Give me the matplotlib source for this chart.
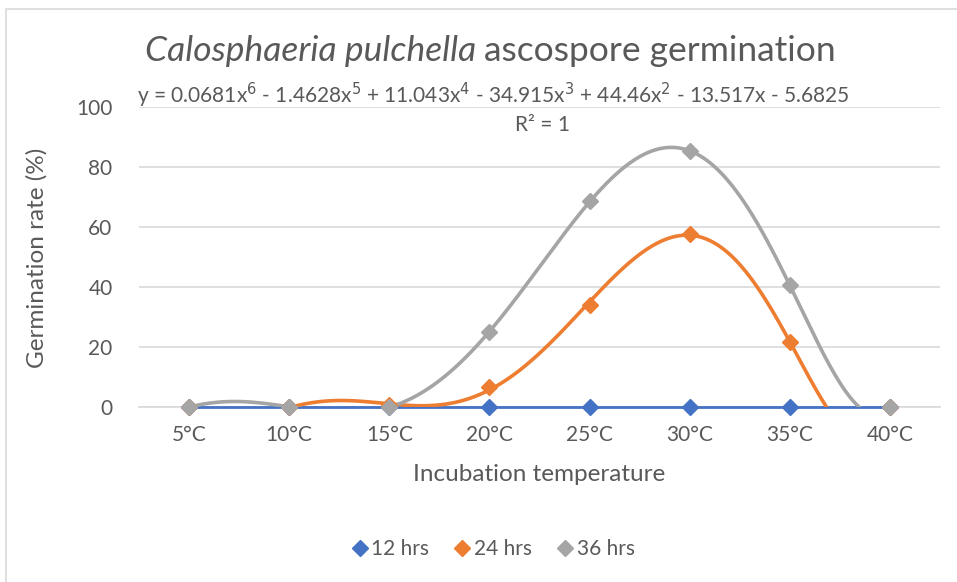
import numpy as np
import matplotlib
matplotlib.use('Agg')
import matplotlib.pyplot as plt
from matplotlib.lines import Line2D

plt.rcParams['font.family'] = ['Lato', 'DejaVu Sans']

temps = ['5°C', '10°C', '15°C', '20°C', '25°C', '30°C', '35°C', '40°C']
hrs12 = [0, 0, 0, 0, 0, 0, 0, 0]
hrs24 = [0, 0, 0.5, 6.6, 34.1, 57.8, 21.6, 0]
hrs36 = [0, 0, 0, 25.0, 68.5, 85.3, 40.6, 0]

blue = '#4472C4'
orange = '#ED7D31'
grey = '#A5A5A5'
txt = '#595959'

fig = plt.figure(figsize=(9.57, 5.82), dpi=100)
ax = fig.add_axes([0.1452, 0.3007, 0.837, 0.5155])

x = np.arange(1, len(temps) + 1)

# 12 hrs: straight line with markers
ax.plot(x, hrs12, color=blue, lw=2, marker='D', ms=8.5, zorder=3, clip_on=False)

# 24 / 36 hrs: markers + 6th order polynomial trendline (like Excel)
xs = np.linspace(1, 8, 400)
for vals, c in [(hrs24, orange), (hrs36, grey)]:
    coef = np.polyfit(x, vals, 6)
    ax.plot(xs, np.polyval(coef, xs), color=c, lw=2.6, zorder=4)
    ax.plot(x, vals, ls='none', marker='D', ms=8.5, color=c, zorder=5, clip_on=False)

ax.set_xlim(0.5, 8.5)
ax.set_ylim(0, 100)
ax.set_yticks(range(0, 101, 20))
ax.set_xticks(x)
ax.set_xticklabels(temps)
ax.tick_params(length=0, labelsize=15, colors=txt)
ax.tick_params(axis='x', pad=13)
ax.tick_params(axis='y', pad=19)
ax.grid(axis='y', color='#D9D9D9', lw=1.2)
ax.set_axisbelow(True)
for s in ['top', 'right', 'left']:
    ax.spines[s].set_visible(False)
ax.spines['bottom'].set_color('#D9D9D9')
ax.spines['bottom'].set_linewidth(1.2)

ax.set_xlabel('Incubation temperature', fontsize=17.5, color=txt, labelpad=14)
fig.text(0.038, 0.557, 'Germination rate (%)', rotation=90, fontsize=17.5,
         color=txt, ha='center', va='center')

# title with italic species name
t1 = fig.text(0.152, 0.912, 'Calosphaeria pulchella', fontsize=25.5, style='italic',
              color=txt, ha='left', va='center')
fig.canvas.draw()
bb = t1.get_window_extent()
fig.text(bb.x1 / fig.bbox.width + 0.008, 0.912, 'ascospore germination', fontsize=25.5,
         color=txt, ha='left', va='center')

fig.text(0.516, 0.836, 'y = 0.0681x$^6$ - 1.4628x$^5$ + 11.043x$^4$ - 34.915x$^3$ + 44.46x$^2$ - 13.517x - 5.6825',
         fontsize=15, color=txt, ha='center', va='center')
fig.text(0.567, 0.785, 'R² = 1', fontsize=15, color=txt, ha='center', va='center')

handles = [Line2D([], [], ls='none', marker='D', ms=8.5, color=c) for c in (blue, orange, grey)]
fig.legend(handles, ['12 hrs', '24 hrs', '36 hrs'], loc='center', bbox_to_anchor=(0.514, 0.057),
           ncol=3, frameon=False, fontsize=15, labelcolor=txt, handletextpad=0.05,
           columnspacing=1.1, handlelength=1.0)

# chart area border
fig.patches.append(plt.Rectangle((0.0065, -0.1), 1.2, 1.085, transform=fig.transFigure,
                                 fill=False, ec='#D9D9D9', lw=1.2))

fig.savefig('out.png', dpi=100, facecolor='white')
